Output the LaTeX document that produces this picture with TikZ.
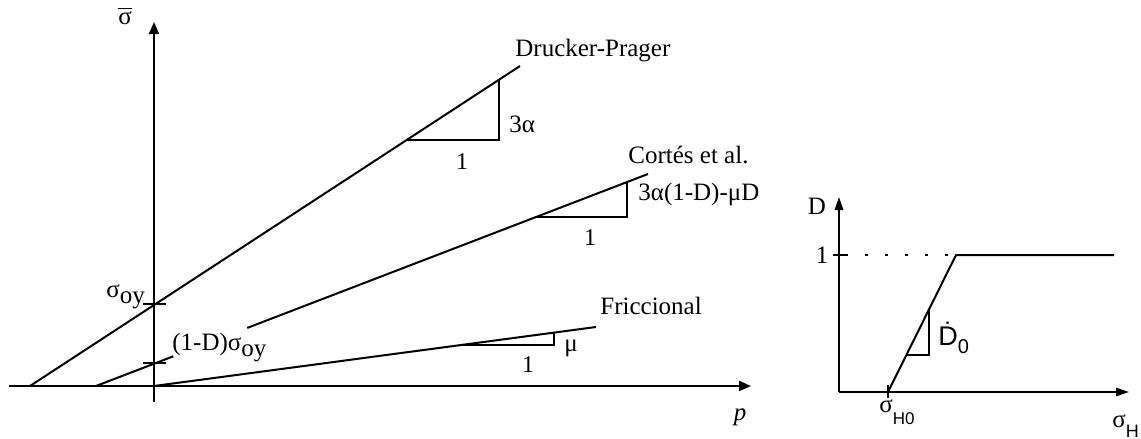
\documentclass[tikz,border=0pt]{standalone}
\usepackage{fontspec}
\setmainfont{Liberation Serif}
\newfontfamily\sansf{Liberation Sans}
\usetikzlibrary{positioning,arrows.meta,calc}
\newcommand\lowsub[2]{\raisebox{-#1}{#2}}

\begin{document}
\begin{tikzpicture}[
  x=0.5pt, y=-0.5pt,
  font=\fontsize{12.5}{15}\selectfont,
  axis/.style={line width=1pt, -{Triangle[length=6pt,width=5pt]}},
  axisr/.style={line width=1pt, -{Triangle[length=6.5pt,width=4.2pt]}},
  yline/.style={line width=1pt},
  tickmark/.style={line width=1pt},
  slope/.style={line width=0.9pt},
  dashln/.style={line width=0.9pt, dash pattern=on 1.5pt off 8.5pt},
  lbl/.style={inner sep=0pt, anchor=base west},
  num/.style={inner sep=0pt, font=\fontsize{12}{14}\selectfont},
  sanssub/.style={inner sep=0pt, anchor=base west},
]
\useasboundingbox (0,0) rectangle (1141,439);
% ---- left: yield lines in the p - sigma plane ------------------------
\coordinate (o)   at (154,386);
\coordinate (ybot) at (154,402);
\coordinate (ytop) at (154,22);
\coordinate (xl)  at (9,386);
\coordinate (xr)  at (751,386);
\coordinate (dp0) at (30,386);
\coordinate (dp1) at (520,66);
\coordinate (ct0) at (96,386);
\coordinate (ct1) at (648,174);
\coordinate (fr1) at (596,327);
\draw[axis] (ybot) -- (ytop);
\draw[axis] (xl) -- (xr);
\draw[yline] (dp0) -- (dp1);
\draw[yline] (ct0) -- ($(ct0)!0.14!(ct1)$);
\draw[yline] ($(ct0)!0.274!(ct1)$) -- (ct1);
\draw[yline] (o) -- (fr1);
% ticks on the sigma axis
\draw[tickmark] (143,304) -- (166,304);
\draw[tickmark] (143,363) -- (166,363);
% slope triangles
\draw[slope] ($(dp0)!0.769!(dp1)$) -| ($(dp0)!0.957!(dp1)$);
\draw[slope] ($(ct0)!0.797!(ct1)$) -| ($(ct0)!0.962!(ct1)$);
\draw[slope] ($(o)!0.695!(fr1)$) -| ($(o)!0.905!(fr1)$);
% ---- labels, left ---------------------------------------------------
\node[inner sep=0pt] (sbar) at (125,16) {$\overline{\hbox{σ}}$};
\node[inner sep=0pt] (plbl) at (740,417) {\textit{p}};
\node[lbl] (soy) at (106,297) {σ\lowsub{3pt}{oy}};
\node[lbl] (dsoy) at (172,350) {(1-D)σ\lowsub{3pt}{oy}};
\node[lbl] (dplbl) at (515,56) {Drucker-Prager};
\node[lbl] (dpk) at (509,132) {3α};
\node[num] (dpone) at (462,162) {1};
\node[lbl] (ctlbl) at (628,163) {Cortés et al.};
\node[lbl] (ctk) at (638,200) {3α(1-D)-μD};
\node[num] (ctone) at (590,238) {1};
\node[lbl] (frlbl) at (600,314) {Friccional};
\node[lbl] (frk) at (564,351) {μ};
\node[num] (frone) at (528,365) {1};
% ---- right: damage vs. hydrostatic stress -----------------------------
\coordinate (o2)   at (839,392);
\coordinate (dtop) at (839,197);
\coordinate (hr)   at (1129,392);
\coordinate (h0)   at (888,392);
\coordinate (knee) at (956,255);
\coordinate (dend) at (1114,255);
\coordinate (one)  at (845,255);
\draw[axisr] (o2) -- (dtop);
\draw[axisr] (o2) -- (hr);
\draw[yline] (h0) -- (knee) -- (dend);
\draw[dashln] (one) -- (knee);
\draw[tickmark] (833,255) -- (one);
\draw[tickmark] (888,385) -- (888,398);
\draw[slope] ($(h0)!0.27!(knee)$) -| ($(h0)!0.603!(knee)$);
% ---- labels, right --------------------------------------------------
\node[inner sep=0pt] (dlbl) at (817,206) {D};
\node[inner sep=0pt] (onelbl) at (822,255) {1};
\node[sanssub] (ddot) at (938,345)
  {\sansf\fontsize{13.5}{15}\selectfont\.{D}\lowsub{4pt}{\fontsize{10}{11}\selectfont 0}};
\node[sanssub] (sh0) at (879,412)
  {σ\lowsub{6pt}{\sansf\fontsize{8.5}{9}\selectfont H0}};
\node[sanssub] (sh) at (1112,427)
  {σ\lowsub{5pt}{\sansf\fontsize{9}{10}\selectfont H}};
\end{tikzpicture}
\end{document}
